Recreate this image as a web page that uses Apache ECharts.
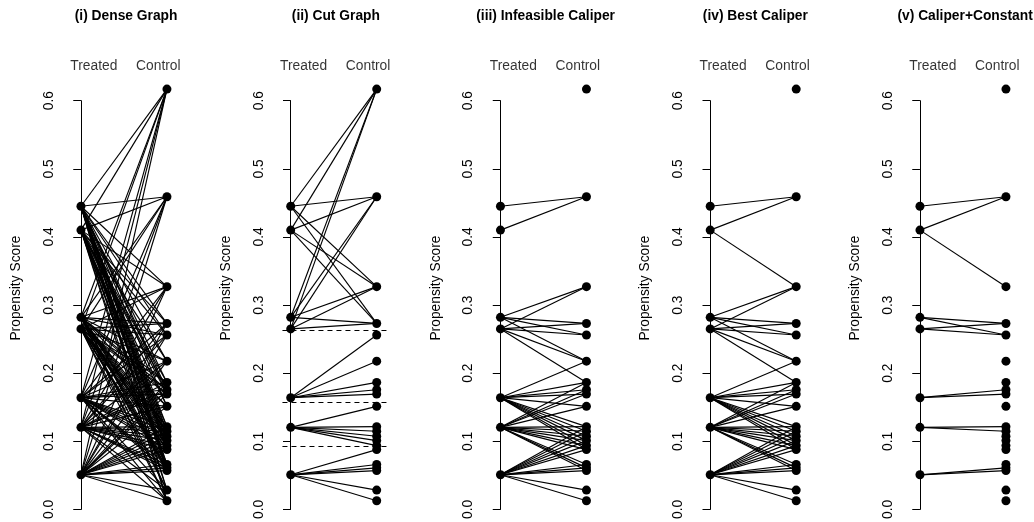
<!DOCTYPE html>
<html>
<head>
<meta charset="utf-8">
<script src="https://cdn.jsdelivr.net/npm/echarts@6/dist/echarts.min.js"></script>
<style>
html,body{margin:0;padding:0;background:#fff;}
#chart{width:1034px;height:522px;}
</style>
</head>
<body>
<div id="chart"></div>
<script>
// ---------------- data ----------------
const panelTitles = ['(i) Dense Graph', '(ii) Cut Graph', '(iii) Infeasible Caliper', '(iv) Best Caliper', '(v) Caliper+Constant'];
const groupLabels = ['Treated', 'Control'];
const treated = [0.445, 0.410, 0.282, 0.265, 0.164, 0.1205, 0.0508];
const control = [0.617, 0.459, 0.327, 0.273, 0.256, 0.2176, 0.1864, 0.1756, 0.1693, 0.1513,
                 0.1215, 0.1147, 0.1074, 0.101, 0.0937, 0.0878, 0.0659, 0.061, 0.057, 0.0284, 0.0127];
const cuts = [0.2634, 0.158, 0.0928];
const caliperInfeasible = 0.081;
const caliperBest = 0.085;
// [treated index, control index]
const constantEdges = [[0,1],[1,1],[1,2],[2,3],[2,4],[3,3],[3,4],[4,7],[4,8],[5,10],[5,11],[6,17],[6,18]];
const yTickLabels = ['0.0', '0.1', '0.2', '0.3', '0.4', '0.5', '0.6'];

// ---------------- edge sets ----------------
function allPairs(pred) {
  const out = [];
  treated.forEach((t, i) => control.forEach((c, j) => { if (pred(t, c, i, j)) out.push([i, j]); }));
  return out;
}
const stratum = v => cuts.filter(c => v < c).length;
const edgeSets = [
  allPairs(() => true),
  allPairs((t, c) => stratum(t) === stratum(c)),
  allPairs((t, c) => Math.abs(t - c) <= caliperInfeasible),
  allPairs((t, c) => Math.abs(t - c) <= caliperBest),
  constantEdges
];

// ---------------- layout ----------------
const X_T = 0, X_C = 1;
const FS = 13.8;
const font = 'Liberation Sans, Arial, Helvetica, sans-serif';
const panelStep = 209.75;
const gridLeft0 = 72.7, gridW = 106.8, gridTop = 100.7, gridH = 410;

const grids = [], xAxes = [], yAxes = [], series = [], titles = [];
panelTitles.forEach((name, k) => {
  const left = gridLeft0 + k * panelStep;
  grids.push({left: left, top: gridTop, width: gridW, height: gridH, containLabel: false});
  titles.push({
    text: name, left: left + gridW / 2, top: 9.5, textAlign: 'center', padding: 0,
    textStyle: {fontFamily: font, fontSize: FS, fontWeight: 'bold', color: '#000', lineHeight: 14}
  });
  xAxes.push({type: 'value', gridIndex: k, min: -0.096, max: 1.146, show: false});
  yAxes.push({
    type: 'value', gridIndex: k, min: 0, max: 0.6, interval: 0.1,
    axisLine: {show: true, lineStyle: {color: '#000', width: 1}},
    axisTick: {show: true, length: 7.7, inside: false, lineStyle: {color: '#000', width: 1}},
    axisLabel: {
      rotate: 90, margin: 16.7, color: '#000', fontFamily: font, fontSize: FS, lineHeight: 14,
      formatter: v => yTickLabels[Math.round(v * 10)]
    },
    splitLine: {show: false},
    name: 'Propensity Score', nameLocation: 'middle', nameRotate: 90, nameGap: 49.5,
    nameTextStyle: {color: '#000', fontFamily: font, fontSize: FS, lineHeight: 14, padding: [0, 0, 0, 34]}
  });

  // edges
  series.push({
    type: 'lines', coordinateSystem: 'cartesian2d', xAxisIndex: k, yAxisIndex: k,
    clip: false, silent: true, animation: false, z: 2,
    lineStyle: {color: '#000', width: 1.15, opacity: 1},
    data: edgeSets[k].map(([i, j]) => ({coords: [[X_T, treated[i]], [X_C, control[j]]]}))
  });
  // cut lines
  if (k === 1) {
    series.push({
      type: 'lines', coordinateSystem: 'cartesian2d', xAxisIndex: k, yAxisIndex: k,
      clip: false, silent: true, animation: false, z: 2,
      lineStyle: {color: '#000', width: 1.15, opacity: 1, type: [5, 4]},
      data: cuts.map(c => ({coords: [[-0.096, c], [1.146, c]]}))
    });
  }
  // points
  series.push({
    type: 'scatter', xAxisIndex: k, yAxisIndex: k, clip: false, silent: true, animation: false, z: 3,
    symbol: 'circle', symbolSize: 9, itemStyle: {color: '#000', opacity: 1},
    data: treated.map(v => [X_T, v]).concat(control.map(v => [X_C, v]))
  });
  // group labels
  series.push({
    type: 'scatter', xAxisIndex: k, yAxisIndex: k, clip: false, silent: true, animation: false, z: 4,
    symbolSize: 0,
    label: {show: true, position: 'inside', color: '#000', fontFamily: font, fontSize: FS,
            formatter: p => p.data[2]},
    data: [[0.15, 0.65, groupLabels[0]], [0.9, 0.65, groupLabels[1]]]
  });
});

const chart = echarts.init(document.getElementById('chart'), null, {renderer: 'canvas'});
chart.setOption({
  backgroundColor: '#fff',
  animation: false,
  title: titles,
  grid: grids,
  xAxis: xAxes,
  yAxis: yAxes,
  series: series
});
</script>
</body>
</html>
